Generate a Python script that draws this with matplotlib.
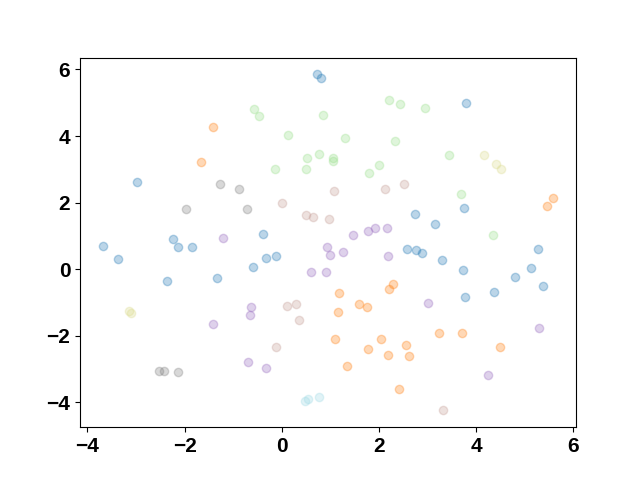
import matplotlib
matplotlib.use('Agg')
import matplotlib.pyplot as plt

plt.rcParams['font.family'] = ['Liberation Sans', 'DejaVu Sans']

# points per colour group
blue_x = [0.73, 0.81, 3.80, -2.98, -0.38, -3.69, -3.37, -2.25, -2.13, -1.85, -0.33, -0.12, -0.60,
          -2.37, -1.33, 2.58, 2.76, 2.89, 3.30, 3.72, 3.77, 4.37, 4.79, 5.13, 5.28, 5.37, 3.74, 2.75, 3.15]
blue_y = [5.85, 5.75, 4.99, 2.62, 1.07, 0.71, 0.31, 0.92, 0.68, 0.68, 0.35, 0.41, 0.06,
          -0.36, -0.25, 0.61, 0.59, 0.49, 0.27, -0.02, -0.83, -0.69, -0.24, 0.03, 0.62, -0.50, 1.85, 1.67, 1.35]

orange_x = [-1.42, -1.67, 5.59, 5.45, 2.28, 2.21, 1.18, 1.58, 1.75, 1.15, 3.24, 3.70, 1.09, 2.05,
            1.78, 2.19, 2.55, 2.62, 4.49, 1.35, 2.42]
orange_y = [4.27, 3.22, 2.13, 1.90, -0.44, -0.60, -0.70, -1.05, -1.13, -1.30, -1.92, -1.93, -2.11, -2.11,
            -2.39, -2.58, -2.29, -2.61, -2.35, -2.91, -3.60]

green_x = [-0.57, -0.47, 0.84, 0.12, 0.51, 0.77, 0.49, -0.15, 2.21, 2.43, 2.95, 1.31, 2.33, 1.06,
           1.06, 3.43, 2.00, 1.79, 3.68, 4.35]
green_y = [4.82, 4.61, 4.64, 4.03, 3.34, 3.47, 3.02, 3.00, 5.08, 4.96, 4.83, 3.93, 3.84, 3.35,
           3.26, 3.44, 3.12, 2.89, 2.27, 1.04]

purple_x = [1.47, 1.78, 1.92, 2.17, -1.21, 0.93, 1.00, 0.60, 0.91, 1.25, 2.19, -0.63, -0.65, -1.42,
            -0.69, -0.32, 3.01, 5.30, 4.24]
purple_y = [1.04, 1.16, 1.25, 1.25, 0.93, 0.68, 0.43, -0.07, -0.07, 0.52, 0.41, -1.14, -1.37, -1.66,
            -2.79, -2.96, -1.01, -1.77, -3.18]

brown_x = [0.00, 0.49, 0.64, 0.97, 1.08, 2.12, 2.51, 0.10, 0.29, 0.36, -0.11, 3.32]
brown_y = [1.98, 1.62, 1.58, 1.52, 2.36, 2.41, 2.56, -1.11, -1.05, -1.54, -2.33, -4.24]

gray_x = [-1.28, -0.89, -1.97, -0.71, -2.52, -2.43, -2.13]
gray_y = [2.57, 2.40, 1.82, 1.82, -3.07, -3.05, -3.09]

olive_x = [4.17, 4.40, 4.51, -3.15, -3.11]
olive_y = [3.42, 3.17, 3.00, -1.27, -1.32]

cyan_x = [0.47, 0.54, 0.76]
cyan_y = [-3.97, -3.89, -3.84]

# tab20 picks: blue, orange, light green, purple, light brown, gray, light olive, light cyan
groups = [
    (blue_x, blue_y, '#1f77b4'),
    (orange_x, orange_y, '#ff7f0e'),
    (green_x, green_y, '#98df8a'),
    (purple_x, purple_y, '#9467bd'),
    (brown_x, brown_y, '#c49c94'),
    (gray_x, gray_y, '#7f7f7f'),
    (olive_x, olive_y, '#dbdb8d'),
    (cyan_x, cyan_y, '#9edae5'),
]

fig, ax = plt.subplots(figsize=(6.4, 4.8), dpi=100)
for xs, ys, c in groups:
    ax.scatter(xs, ys, c=c, alpha=0.3)

ax.set_xticks([-4, -2, 0, 2, 4, 6])
ax.set_yticks([-4, -2, 0, 2, 4, 6])
for lab in ax.get_xticklabels() + ax.get_yticklabels():
    lab.set_fontsize(15)
    lab.set_fontweight('bold')

fig.savefig('out.png')
